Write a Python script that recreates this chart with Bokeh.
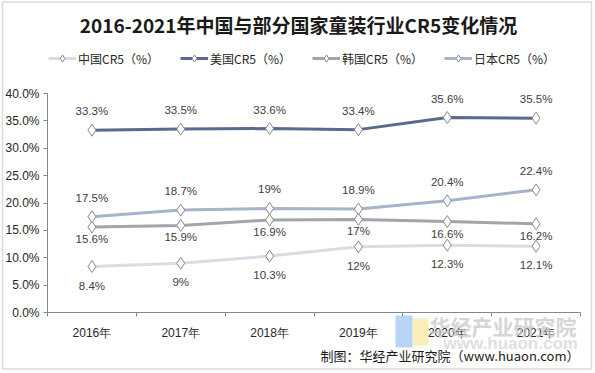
from bokeh.plotting import figure
from bokeh.models import (Range1d, FixedTicker, PrintfTickFormatter, Label,
                          Legend, LegendItem, ColumnDataSource, BoxAnnotation)
from bokeh.core.properties import value
from bokeh.embed import file_html
from bokeh.resources import INLINE
import numpy as np

# ---------------- data ----------------
years = ["2016年", "2017年", "2018年", "2019年", "2020年", "2021年"]
china = [8.4, 9, 10.3, 12, 12.3, 12.1]
usa = [33.3, 33.5, 33.6, 33.4, 35.6, 35.5]
korea = [15.6, 15.9, 16.9, 17, 16.6, 16.2]
japan = [17.5, 18.7, 19, 18.9, 20.4, 22.4]
series_names = ["中国CR5（%）", "美国CR5（%）", "韩国CR5（%）", "日本CR5（%）"]
y_ticks = [0, 5, 10, 15, 20, 25, 30, 35, 40]

title_text = "2016-2021年中国与部分国家童装行业CR5变化情况"
credit_text = "制图：华经产业研究院（www.huaon.com）"
wm_text = "华经产业研究院"
wm_url = "www.huaon.com"

# ---------------- styles ----------------
colors = ["#D9DCE3", "#5A6A8E", "#A2A5A9", "#A7B2CC"]
label_offsets = [19, -19, 12, -19]
SANS = "Liberation Sans"
CJK = "Noto Sans CJK SC"

W, H = 594, 372
n = len(years)
xs = np.arange(n) + 0.5
YMAX = 40

# pixel layout of the plotting area inside the canvas
fl, fr, ft, fb = 47, 580, 93, 312
ppx = (fr - fl) / n          # px per x unit
ppy = (fb - ft) / YMAX       # px per y unit
x0 = -fl / ppx
x1 = n + (W - fr) / ppx
y1 = YMAX + ft / ppy
y0 = -(H - fb) / ppy

def dx(px):
    return x0 + px / ppx

def dy(py):
    return y1 - py / ppy

p = figure(width=W, height=H, output_backend="svg", toolbar_location=None,
           x_range=Range1d(x0, x1), y_range=Range1d(y0, y1),
           min_border=0, title=None)
p.title_location = None
p.outline_line_color = None
p.xgrid.visible = False
p.ygrid.visible = False
p.background_fill_color = "white"
p.border_fill_color = "white"

# outer frame
p.add_layout(BoxAnnotation(left=dx(2), right=dx(591), top=dy(1.5), bottom=dy(368.5),
                           fill_alpha=0, line_color="#8c8c8c", line_width=1.5))

# axes (drawn at fixed data locations so the whole canvas is the frame)
xa = p.xaxis[0]
xa.fixed_location = 0
xa.bounds = (0, n)
xa.ticker = FixedTicker(ticks=list(xs), minor_ticks=list(range(n + 1)))
xa.major_label_overrides = {float(x): y for x, y in zip(xs, years)}
xa.major_tick_out = 0
xa.major_tick_in = 0
xa.minor_tick_out = 4
xa.minor_tick_in = 0
xa.minor_tick_line_color = "#868686"
xa.axis_line_color = "#868686"
xa.major_label_text_font = SANS
xa.major_label_text_font_size = "12px"
xa.major_label_text_color = "#262626"
xa.major_label_standoff = 9

ya = p.yaxis[0]
ya.fixed_location = 0
ya.bounds = (0, YMAX)
ya.ticker = FixedTicker(ticks=y_ticks)
ya.formatter = PrintfTickFormatter(format="%.1f%%")
ya.major_tick_out = 4
ya.major_tick_in = 0
ya.minor_tick_line_color = None
ya.axis_line_color = "#868686"
ya.major_tick_line_color = "#868686"
ya.major_label_text_font = SANS
ya.major_label_text_font_size = "12px"
ya.major_label_text_color = "#262626"
ya.major_label_standoff = 4

# series
items = []
all_series = [china, usa, korea, japan]
for name, vals, col, off in zip(series_names, all_series, colors, label_offsets):
    src = ColumnDataSource(dict(x=xs, y=vals, t=[f"{v:g}%" for v in vals]))
    ln = p.line("x", "y", source=src, line_color=col, line_width=3)
    sc = p.scatter("x", "y", source=src, marker="diamond", size=12,
                   fill_color="white", line_color="#8a8a8a", line_width=1)
    p.text("x", "y", text="t", source=src, y_offset=off, text_align="center",
           text_baseline="middle", text_font=value(SANS),
           text_font_size="11.5px", text_color="#404040")
    items.append(LegendItem(label=name, renderers=[ln, sc]))

legend = Legend(items=items, orientation="horizontal", location=(48, H - 67),
                glyph_width=28, glyph_height=18, label_standoff=2, spacing=21,
                padding=0, margin=0, border_line_color=None,
                background_fill_alpha=0, label_text_font=CJK,
                label_text_font_size="12px", label_text_color="#262626")
p.add_layout(legend, "center")

p.add_layout(Label(x=dx(298), y=dy(24), text=title_text, text_align="center",
                   text_baseline="middle", text_font=CJK,
                   text_font_size="19px", text_font_style="bold",
                   text_color="#1a1a1a"))

# watermark
p.add_layout(BoxAnnotation(left=dx(395), right=dx(412), top=dy(315), bottom=dy(347),
                           fill_color="#A9C9F2", fill_alpha=0.8, line_color=None,
                           level="underlay"))
p.add_layout(BoxAnnotation(left=dx(412), right=dx(428), top=dy(318), bottom=dy(345),
                           fill_color="#F8E9A6", fill_alpha=0.8, line_color=None,
                           level="underlay"))
p.add_layout(Label(x=dx(429), y=dy(325), text=wm_text, text_align="left",
                   text_baseline="middle", text_font=CJK, text_font_size="21px",
                   text_font_style="bold", text_color="#C8C8C8", text_alpha=0.75))
p.add_layout(Label(x=dx(443), y=dy(343), text=wm_url, text_align="left",
                   text_baseline="middle", text_font=SANS, text_font_size="17px",
                   text_font_style="bold", text_color="#D5D5D5", text_alpha=0.75))

p.add_layout(Label(x=dx(579), y=dy(355), text=credit_text, text_align="right",
                   text_baseline="middle", text_font=CJK, text_font_size="13px",
                   text_color="#1a1a1a"))

open("out.html", "w").write(file_html(p, INLINE))
